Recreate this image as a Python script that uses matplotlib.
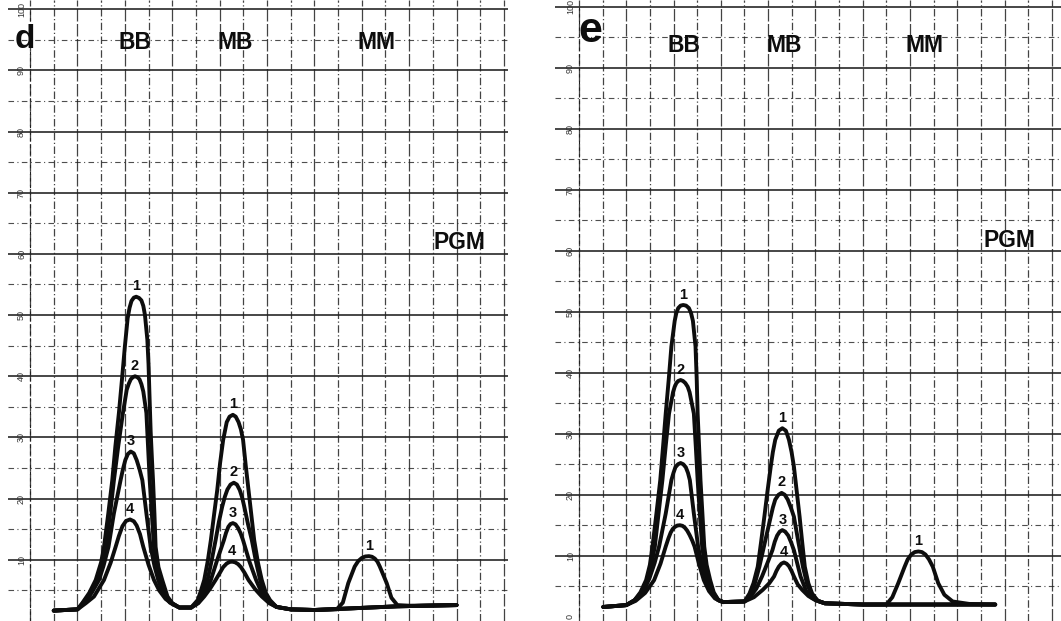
import numpy as np
import matplotlib
matplotlib.use("Agg")
import matplotlib.pyplot as plt

# ============================================================
# DATA  (x in chart divisions, y in % of full scale)
# ============================================================

# ---- panel d ----
d_trace1 = [(1.0, 1.7), (2.0, 1.9), (2.2, 2.9), (2.5, 4.6), (2.77, 6.7), (3.0, 9.6),
            (3.12, 12.1), (3.3, 17.5), (3.47, 23.0), (3.6, 28.5), (3.75, 34.0),
            (3.88, 39.5), (4.0, 44.8), (4.12, 49.5), (4.2, 51.2), (4.28, 52.3),
            (4.38, 52.85), (4.48, 53.0), (4.6, 52.8), (4.7, 52.4), (4.78, 51.5),
            (4.85, 50.0), (4.95, 46.0), (5.0, 42.0), (5.04, 37.0),
            (5.09, 31.0), (5.15, 26.0), (5.19, 23.0), (5.25, 17.5), (5.3, 12.1),
            (5.42, 8.8), (5.58, 6.7), (5.8, 4.0), (6.0, 2.9), (6.3, 2.2), (6.8, 2.2),
            (7.07, 3.4), (7.2, 4.8), (7.35, 6.7), (7.5, 9.8), (7.63, 13.2), (7.77, 17.5),
            (7.9, 21.4), (8.02, 25.8), (8.15, 29.6), (8.3, 32.5), (8.42, 33.4),
            (8.56, 33.7), (8.68, 33.4), (8.8, 32.5), (8.9, 31.3), (8.99, 29.6),
            (9.1, 25.5), (9.22, 21.4), (9.34, 17.3),
            (9.46, 13.2), (9.62, 9.5), (9.78, 6.7), (9.95, 4.6), (10.13, 3.4),
            (10.4, 2.3), (11.0, 1.9), (12.0, 1.8), (12.94, 1.9), (13.2, 3.0),
            (13.43, 6.2), (13.7, 8.9), (13.85, 9.8), (14.0, 10.3), (14.15, 10.55),
            (14.3, 10.6), (14.43, 10.5), (14.55, 10.2), (14.66, 9.7),
            (14.76, 8.9), (15.05, 6.2), (15.25, 3.8), (15.5, 2.6), (16.0, 2.5), (18.0, 2.6)]

d_trace2 = [(1.0, 1.7), (2.0, 1.9), (2.2, 2.8), (2.5, 4.3), (2.84, 6.7), (3.0, 8.8),
            (3.19, 12.1), (3.38, 17.5), (3.54, 23.0), (3.72, 28.5), (3.92, 34.0),
            (4.08, 37.8), (4.17, 38.8), (4.25, 39.5), (4.34, 39.85), (4.43, 40.0),
            (4.53, 39.85), (4.62, 39.5), (4.7, 38.7), (4.78, 37.5),
            (4.91, 34.0), (4.98, 28.5), (5.05, 23.0), (5.14, 17.5), (5.23, 12.1),
            (5.35, 9.0), (5.51, 6.7), (5.75, 4.0), (6.0, 2.9), (6.3, 2.2), (6.8, 2.2),
            (7.1, 3.2), (7.3, 4.6), (7.49, 6.7), (7.66, 9.8), (7.83, 13.2), (7.97, 16.2),
            (8.11, 18.7), (8.22, 20.3), (8.33, 21.5), (8.46, 22.3), (8.6, 22.6),
            (8.73, 22.3), (8.85, 21.4), (8.95, 20.2), (9.04, 18.7),
            (9.2, 15.8), (9.36, 13.2), (9.53, 9.8), (9.71, 6.7), (9.9, 4.4),
            (10.13, 3.2), (10.4, 2.3), (11.0, 1.9), (12.0, 1.8), (15.5, 2.4), (18.0, 2.6)]

d_trace3 = [(1.0, 1.7), (2.0, 1.9), (2.3, 3.0), (2.6, 4.6), (2.91, 6.7), (3.1, 9.0),
            (3.31, 12.1), (3.54, 17.6), (3.82, 23.0), (3.92, 24.8), (4.02, 26.3),
            (4.13, 27.3), (4.25, 27.7), (4.38, 27.4), (4.5, 26.3), (4.62, 24.8),
            (4.74, 23.0), (4.91, 17.6), (5.09, 12.1), (5.25, 9.0),
            (5.41, 6.7), (5.65, 4.2), (5.9, 3.0), (6.3, 2.2), (6.8, 2.2), (7.1, 3.0),
            (7.4, 4.6), (7.63, 6.7), (7.9, 10.0), (8.18, 13.2), (8.27, 14.4),
            (8.37, 15.4), (8.46, 15.85), (8.56, 16.0), (8.67, 15.8), (8.78, 15.2),
            (8.89, 14.3), (8.99, 13.2), (9.25, 9.8), (9.54, 6.7),
            (9.8, 4.4), (10.1, 3.0), (10.4, 2.3), (11.0, 1.9), (12.0, 1.8),
            (15.5, 2.4), (18.0, 2.6)]

d_trace4 = [(1.0, 1.7), (2.0, 1.9), (2.35, 2.9), (2.7, 4.0), (3.12, 6.7), (3.4, 9.5),
            (3.61, 12.1), (3.75, 13.9), (3.9, 15.5), (4.05, 16.35), (4.22, 16.6),
            (4.38, 16.3), (4.5, 15.6), (4.64, 14.2), (4.78, 12.1), (5.0, 9.2),
            (5.23, 6.7), (5.45, 5.0), (5.72, 3.6), (6.0, 2.8), (6.3, 2.2), (6.8, 2.2),
            (7.1, 2.9), (7.35, 4.0), (7.6, 5.3), (7.83, 6.7), (8.0, 7.8), (8.15, 8.8),
            (8.3, 9.4), (8.42, 9.65), (8.53, 9.7), (8.65, 9.6), (8.78, 9.3),
            (8.9, 8.8), (9.05, 7.9), (9.22, 6.7), (9.5, 5.2), (9.78, 4.0),
            (10.1, 2.9), (10.4, 2.3), (11.0, 1.9), (12.0, 1.8), (15.5, 2.4), (18.0, 2.6)]

# ---- panel e ----
e_trace1 = [(1.03, 1.6), (2.0, 1.9), (2.35, 2.7), (2.6, 4.0), (2.84, 6.0), (3.0, 8.5),
            (3.11, 11.5), (3.28, 17.0), (3.44, 22.4), (3.56, 28.0), (3.67, 33.3),
            (3.8, 39.0), (3.91, 44.3), (4.05, 48.5), (4.12, 49.8), (4.2, 50.6),
            (4.3, 51.0), (4.41, 51.1), (4.53, 51.0), (4.65, 50.6), (4.74, 49.8),
            (4.82, 48.5), (4.93, 44.3), (4.98, 39.0), (5.02, 33.3),
            (5.08, 28.0), (5.14, 22.4), (5.22, 17.0), (5.3, 11.5), (5.4, 8.5),
            (5.55, 6.0), (5.7, 4.0), (5.9, 2.7), (6.1, 2.4), (7.0, 2.5), (7.21, 3.8),
            (7.38, 5.5), (7.56, 8.2), (7.7, 12.2), (7.84, 16.4), (7.97, 20.5),
            (8.11, 24.6), (8.2, 27.0), (8.3, 29.0), (8.45, 30.5), (8.6, 30.9),
            (8.75, 30.5), (8.88, 29.0), (8.99, 27.0), (9.09, 24.6),
            (9.21, 20.5), (9.33, 16.4), (9.44, 12.2), (9.55, 8.2), (9.7, 5.5),
            (9.86, 3.8), (10.1, 2.6), (10.4, 2.2), (12.0, 2.0), (13.0, 2.0),
            (13.25, 3.2), (13.5, 5.5), (13.77, 8.2), (13.9, 9.4), (14.05, 10.2),
            (14.2, 10.6), (14.35, 10.7), (14.5, 10.6), (14.65, 10.2), (14.8, 9.4),
            (14.96, 8.2), (15.19, 5.5), (15.45, 3.6), (15.8, 2.5),
            (16.5, 2.1), (17.6, 2.0)]

e_trace2 = [(1.03, 1.6), (2.0, 1.9), (2.35, 2.7), (2.65, 4.0), (2.9, 6.0), (3.05, 8.3),
            (3.21, 11.5), (3.37, 17.0), (3.53, 22.4), (3.67, 28.0), (3.81, 33.3),
            (3.98, 36.8), (4.05, 37.7), (4.12, 38.3), (4.2, 38.65), (4.3, 38.8),
            (4.4, 38.65), (4.5, 38.3), (4.6, 37.7), (4.68, 36.8),
            (4.86, 33.3), (4.94, 28.0), (5.02, 22.4), (5.11, 17.0), (5.21, 11.5),
            (5.33, 8.3), (5.5, 5.8), (5.7, 3.8), (5.9, 2.7), (6.1, 2.4), (7.0, 2.5),
            (7.2, 3.3), (7.42, 5.2), (7.63, 8.2), (7.88, 12.5), (8.11, 16.4),
            (8.2, 17.9), (8.3, 19.2), (8.44, 20.0), (8.57, 20.3), (8.7, 20.0),
            (8.83, 19.2), (8.96, 17.9), (9.09, 16.4), (9.28, 12.2),
            (9.47, 8.2), (9.65, 5.3), (9.85, 3.6), (10.1, 2.6), (10.4, 2.2),
            (12.0, 2.0), (17.6, 2.0)]

e_trace3 = [(1.03, 1.6), (2.0, 1.9), (2.4, 2.8), (2.75, 4.2), (3.0, 6.5), (3.2, 8.8),
            (3.39, 11.5), (3.67, 16.9), (3.91, 22.4), (4.0, 23.6), (4.08, 24.5),
            (4.19, 25.0), (4.3, 25.2), (4.41, 25.0), (4.52, 24.5), (4.61, 23.6),
            (4.69, 22.4), (4.86, 16.9), (5.04, 11.5), (5.2, 8.5),
            (5.38, 6.0), (5.6, 4.0), (5.85, 2.8), (6.1, 2.4), (7.0, 2.5), (7.25, 3.3),
            (7.5, 4.6), (7.74, 6.6), (7.95, 8.6), (8.18, 10.9), (8.28, 12.3),
            (8.38, 13.3), (8.49, 13.95), (8.6, 14.2), (8.72, 13.95), (8.85, 13.3),
            (8.97, 12.2), (9.09, 10.9), (9.37, 6.6), (9.6, 4.3),
            (9.85, 3.1), (10.1, 2.6), (10.4, 2.2), (12.0, 2.0), (17.6, 2.0)]

e_trace4 = [(1.03, 1.6), (2.0, 1.9), (2.4, 2.6), (2.8, 3.9), (3.18, 6.0), (3.45, 8.7),
            (3.67, 11.5), (3.78, 12.8), (3.88, 13.8), (3.97, 14.4), (4.05, 14.7),
            (4.16, 14.95), (4.27, 15.0), (4.38, 14.9), (4.48, 14.6), (4.58, 14.1),
            (4.68, 13.4), (4.79, 12.5), (4.89, 11.5), (5.08, 8.6), (5.28, 6.0),
            (5.5, 4.2), (5.75, 3.0), (6.1, 2.4), (7.0, 2.5), (7.4, 3.2), (7.77, 4.4),
            (8.05, 5.5), (8.25, 6.6), (8.35, 7.5), (8.45, 8.2), (8.56, 8.7),
            (8.67, 8.9), (8.78, 8.7), (8.88, 8.3), (8.99, 7.5), (9.09, 6.6),
            (9.25, 5.3), (9.44, 4.4), (9.7, 3.4), (10.0, 2.7), (10.4, 2.2),
            (12.0, 2.0), (17.6, 2.0)]

trace_names = ["1", "2", "3", "4"]
band_names = ["BB", "MB", "MM"]
band_ranges = [(2.0, 6.5), (6.5, 10.5), (12.0, 16.5)]

d_ytick_values = [10, 20, 30, 40, 50, 60, 70, 80, 90, 100]
e_ytick_values = [0, 10, 20, 30, 40, 50, 60, 70, 80, 90, 100]

# ============================================================
# STYLE
# ============================================================

plt.rcParams["font.family"] = ["Liberation Sans", "DejaVu Sans"]
ink = "#0d0d0d"
grid_ink = "#222222"

fig = plt.figure(figsize=(10.61, 6.21), dpi=100)


def draw_panel(ax, traces, ytick_values, letter, letter_pos, letter_size,
               band_label_y, pgm_pos):

    # grid of the chart paper
    for v in range(5, 101, 10):
        ax.axhline(v, color=grid_ink, lw=0.8, ls=(0, (5, 3, 1, 3)), alpha=0.8)
    for v in range(10, 101, 10):
        ax.axhline(v, color=grid_ink, lw=1.3, alpha=0.9)
    for u in range(0, 21):
        ax.axvline(u, 0, 1, color=grid_ink, lw=0.9,
                   ls=(0, (6, 2, 1, 2)) if u % 2 else (0, (10, 2)), alpha=0.85)
    ax.plot([0, 0], [0, 100], color=grid_ink, lw=0.8, ls=(0, (3, 3)))

    for v in ytick_values:
        ax.text(-0.36, v, str(v), rotation=90, fontsize=6.5, color="#333333",
                ha="center", va="center")

    # traces
    for name, tr in zip(trace_names, traces):
        xy = np.array(tr)
        ax.plot(xy[:, 0], xy[:, 1], color=ink, lw=2.8,
                solid_joinstyle="round", solid_capstyle="round", zorder=5)

        for k, (lo, hi) in enumerate(band_ranges):
            m = (xy[:, 0] >= lo) & (xy[:, 0] <= hi)
            seg = xy[m]
            if len(seg) == 0 or seg[:, 1].max() < 6:
                continue
            i = np.argmax(seg[:, 1])
            ax.annotate(name, (seg[i, 0], seg[i, 1]), xytext=(0, 7.5),
                        textcoords="offset points", ha="center", va="center",
                        fontsize=10.5, fontweight="bold", color=ink, zorder=6)

    # headings
    ax.text(letter_pos[0], letter_pos[1], letter, fontsize=letter_size,
            fontweight="bold", ha="center", va="center", color=ink)
    for b, bx in zip(band_names, [4.45, 8.66, 14.6]):
        ax.text(bx, band_label_y, b, fontsize=16.5, fontweight="bold",
                ha="center", va="center", color=ink)
    ax.text(pgm_pos[0], pgm_pos[1], "PGM", fontsize=16.5, fontweight="bold",
            ha="center", va="center", color=ink)

    ax.set_yticks([])
    ax.set_xticks([])
    for s in ax.spines.values():
        s.set_visible(False)


# ============================================================
# PANEL d
# ============================================================

ax_d = fig.add_axes([8 / 1061, 0.0, 500 / 1061, 1.0])
ax_d.set_xlim(-0.93, 20.17)
ax_d.set_ylim(0.0, 101.5)
draw_panel(ax_d, [d_trace1, d_trace2, d_trace3, d_trace4], d_ytick_values,
           "d", (-0.21, 95.0), 24, 94.5, (18.14, 61.8))

# ============================================================
# PANEL e
# ============================================================

ax_e = fig.add_axes([555 / 1061, 0.0, 506 / 1061, 1.0])
ax_e.set_xlim(-1.01, 20.38)
ax_e.set_ylim(-0.7, 101.1)
draw_panel(ax_e, [e_trace1, e_trace2, e_trace3, e_trace4], e_ytick_values,
           "e", (0.47, 96.0), 31, 93.7, (18.18, 61.6))

fig.savefig("out.png", dpi=100, facecolor="white")
